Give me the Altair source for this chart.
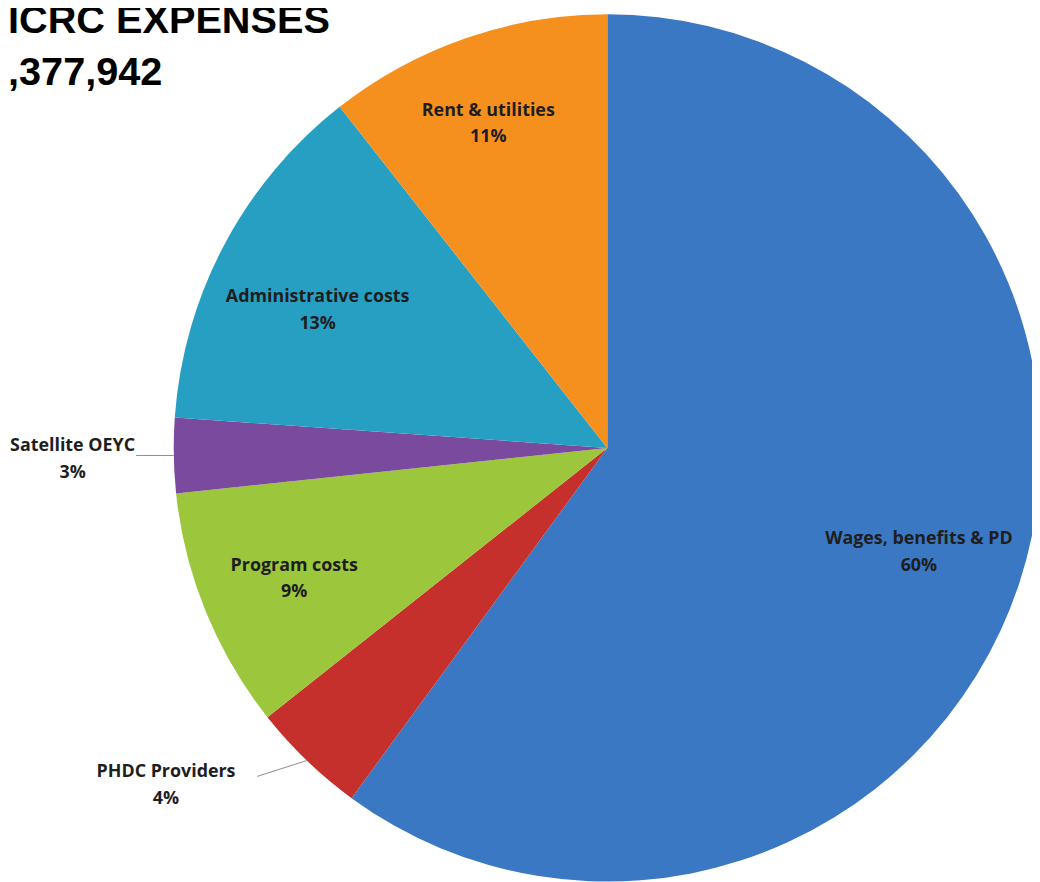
import altair as alt
import pandas as pd

# ---- data ----
categories = ["Wages, benefits & PD", "PHDC Providers", "Program costs",
              "Satellite OEYC", "Administrative costs", "Rent & utilities"]
shares = [60.1, 4.3, 9.0, 2.8, 13.3, 10.6]          # percent of total expenses
colors = ["#3a78c4", "#c5302c", "#9cc63c", "#7a4a9f", "#279fc2", "#f5901f"]
title_lines = ["ICRC EXPENSES", ",377,942"]

df = pd.DataFrame({
    "category": categories,
    "share": shares,
    "order": list(range(len(categories))),
})

W, H = 1032, 874
CX, CY, R = 604, 440, 437

# label layout (radius along the slice's mid-angle, plus nudges) - style only
label_layout = {
    "Wages, benefits & PD": dict(radius=324, dx=6, dy=-9),
    "PHDC Providers":       dict(radius=470, dx=-119, dy=-12),
    "Program costs":        dict(radius=343, dx=2, dy=-11),
    "Satellite OEYC":       dict(radius=542, dx=3, dy=-11),
    "Administrative costs": dict(radius=326, dx=-4, dy=1),
    "Rent & utilities":     dict(radius=349, dx=-6, dy=-10),
}
leader_offsets = {
    "Satellite OEYC": (-38, 0),
    "PHDC Providers": (-50, 16),
}

base = alt.Chart(df).encode(
    theta=alt.Theta("share:Q", stack=True),
    order=alt.Order("order:Q"),
)

pie = base.mark_arc(radius=R, strokeWidth=0).encode(
    x=alt.value(CX), y=alt.value(CY),
    color=alt.Color("category:N",
                    scale=alt.Scale(domain=categories, range=colors),
                    legend=None),
)

label_expr = "datum.category + '\\n' + format(round(datum.share), 'd') + '%'"

def label_layer(cat, radius, dx, dy):
    return base.transform_calculate(
        lab=f"datum.category == '{cat}' ? {label_expr} : ''"
    ).mark_text(
        radius=radius, dx=dx, dy=dy, lineBreak="\n", lineHeight=27,
        font="Open Sans", fontWeight="bold", fontSize=18, color="#1e1e1e",
        align="center", baseline="middle",
    ).encode(x=alt.value(CX), y=alt.value(CY), text="lab:N")

labels = [label_layer(c, **label_layout[c]) for c in categories]

# leader lines from the pie edge (mid-angle of slice) towards the outside labels
x2_expr = " : ".join(
    f"datum.category == '{c}' ? datum.x1 + ({o[0]})" for c, o in leader_offsets.items()
) + " : datum.x1"
y2_expr = " : ".join(
    f"datum.category == '{c}' ? datum.y1 + ({o[1]})" for c, o in leader_offsets.items()
) + " : datum.y1"
leaders = alt.Chart(df).transform_window(
    cum="sum(share)", sort=[alt.SortField("order")],
    frame=[None, 0]
).transform_joinaggregate(
    total="sum(share)"
).transform_filter(
    alt.FieldOneOfPredicate(field="category", oneOf=list(leader_offsets))
).transform_calculate(
    mid="2*PI*(datum.cum - datum.share/2)/datum.total",
    x1=f"{CX} + {R}*sin(datum.mid)",
    y1=f"{CY} - {R}*cos(datum.mid)",
).transform_calculate(
    x2=x2_expr, y2=y2_expr,
).mark_rule(color="#8c8c8c", strokeWidth=1).encode(
    x=alt.X("x1:Q", scale=None, axis=None),
    y=alt.Y("y1:Q", scale=None, axis=None),
    x2="x2:Q", y2="y2:Q",
)

title_df = pd.DataFrame({"line": title_lines, "row": [0, 1]})
title = alt.Chart(title_df).mark_text(
    font="Liberation Sans", fontWeight="bold", fontSize=40, color="#000000",
    align="left", baseline="alphabetic",
).encode(
    x=alt.value(0),
    y=alt.Y("row:Q", scale=alt.Scale(domain=[0, 1], range=[22, 74]), axis=None),
    text="line:N",
)

chart = alt.layer(pie, *labels, leaders, title).properties(
    width=W, height=H,
    autosize=alt.AutoSizeParams(type="none"),
    padding=0,
    background="white",
).configure_view(strokeWidth=0, stroke="transparent")

chart.save("out.html", embed_options={"renderer": "svg", "actions": False})
